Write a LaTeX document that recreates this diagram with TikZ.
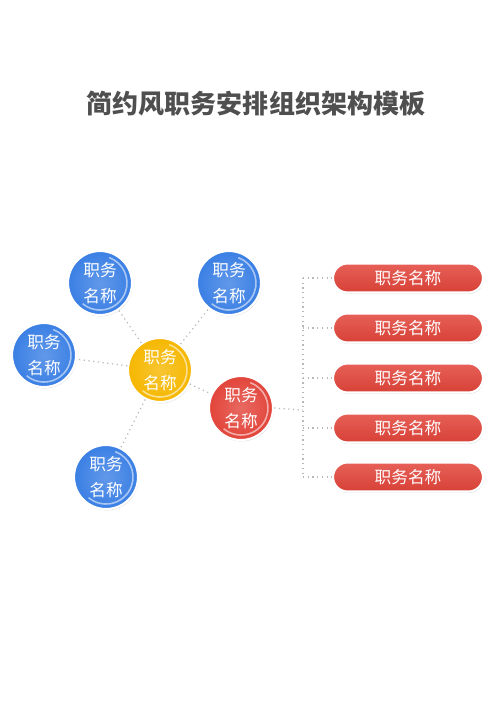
\documentclass[tikz,border=0pt]{standalone}
\usepackage{fontspec}
\setmainfont{Noto Sans CJK SC}
\definecolor{BallBlue}{HTML}{3A7FE4}
\definecolor{BallYellow}{HTML}{F6B700}
\definecolor{BallRed}{HTML}{E2443A}
\definecolor{TitleGray}{HTML}{4F4F4F}
\definecolor{LinkGray}{HTML}{B8B8B8}
\usepackage{tikz}
\usetikzlibrary{shadows}

\begin{document}
\begin{tikzpicture}[x=0.02cm, y=-0.02cm]

    \tikzset{%
        ball/.style={%
                circle, draw=white, line width=1.2pt,
                inner color=#1!80!white, outer color=#1,
                minimum size=1.28cm, inner sep=0pt, align=center,
                text=white, font=\fontsize{9.5}{15}\selectfont,
                drop shadow={opacity=0.25, shadow xshift=0.4pt, shadow yshift=-0.8pt},
                path picture={%
                        \draw [white, opacity=0.55, line width=0.9pt]
                        (path picture bounding box.center) ++(70:0.54cm) arc (70:-130:0.54cm);
                    }
            },
        pill/.style={%
                rectangle, rounded corners=0.29cm, draw=white, line width=1.2pt,
                top color=BallRed!85!white, bottom color=BallRed!95!black,
                minimum width=3cm, minimum height=0.58cm,
                text=white, font=\fontsize{9.5}{12}\selectfont,
                drop shadow={opacity=0.25, shadow xshift=0.4pt, shadow yshift=-0.8pt}
            },
        link/.style={LinkGray, dotted, line width=0.7pt}
    }

    \useasboundingbox (0, 0) rectangle (500, 707);

    \node [text=TitleGray, font=\fontsize{14.8}{18}\selectfont\bfseries] (title) at (256, 104) {简约风职务安排组织架构模板};

    % circles
    \node [ball=BallYellow] (centre) at (160, 370) {职务\\名称};
    \node [ball=BallBlue] (topleft) at (100, 283) {职务\\名称};
    \node [ball=BallBlue] (topright) at (229, 283) {职务\\名称};
    \node [ball=BallBlue] (left) at (44, 355) {职务\\名称};
    \node [ball=BallBlue] (bottom) at (106, 477) {职务\\名称};
    \node [ball=BallRed] (head) at (241, 408) {职务\\名称};

    \foreach \n in {topleft, topright, left, bottom, head} {%
            \draw [link] (centre) -- (\n);
        }

    % right column
    \coordinate (bus) at (303, 410);
    \foreach \i/\y in {1/278, 2/328, 3/378, 4/428, 5/477} {%
            \node [pill] (duty\i) at (408, \y) {职务名称};
            \draw [link] (bus |- duty\i) -- (duty\i.west);
        }
    \draw [link] (head.east) -- (bus);
    \draw [link] (bus |- duty1) -- (bus |- duty5);

\end{tikzpicture}
\end{document}
